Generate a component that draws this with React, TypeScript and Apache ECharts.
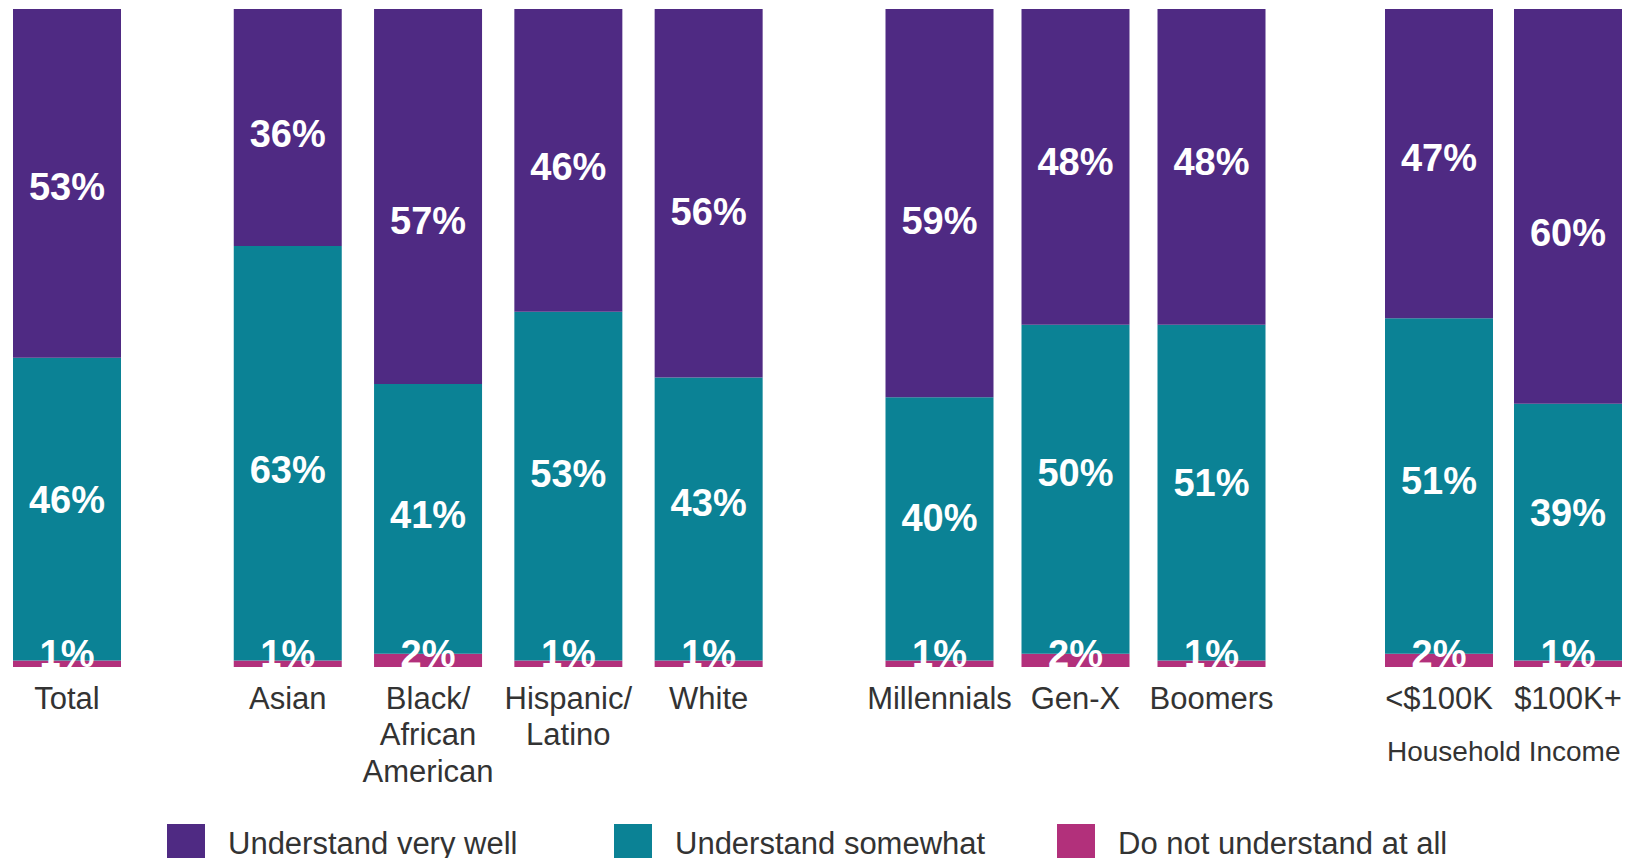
import React, { useEffect, useRef } from "react";
import * as echarts from "echarts";

// ---- Data ----
const categories = [
  "Total",
  "Asian",
  "Black/\nAfrican\nAmerican",
  "Hispanic/\nLatino",
  "White",
  "Millennials",
  "Gen-X",
  "Boomers",
  "<$100K",
  "$100K+",
];
const understandVeryWell = [53, 36, 57, 46, 56, 59, 48, 48, 47, 60];
const understandSomewhat = [46, 63, 41, 53, 43, 40, 50, 51, 51, 39];
const doNotUnderstand = [1, 1, 2, 1, 1, 1, 2, 1, 2, 1];
const groupSizes = [1, 4, 3, 2];
const seriesNames = ["Understand very well", "Understand somewhat", "Do not understand at all"];
const incomeGroupTitle = "Household Income";

// ---- Layout / style ----
const COLORS = {
  veryWell: "#4F2A83",
  somewhat: "#0B8295",
  notAtAll: "#B2307B",
};
const FONT = "'Liberation Sans', Arial, Helvetica, sans-serif";
const gridLayout = [
  { left: 13, width: 108 },
  { left: 217.6, width: 561.2 },
  { left: 871.5, width: 408 },
  { left: 1374.5, width: 258 },
];
const GRID_TOP = 9;
const GRID_HEIGHT = 658;
const BAR_WIDTH = 108;
// vertical nudges of the in-bar labels (pixels), as placed in the original design
const veryWellLabelNudge = [4, 7, 24, 7, 19, 18, -5, -5, -6, 27];
const somewhatLabelNudge = [-9, 17, -4, -12, -16, -11, -16, -10, -5, -19];

export default function App() {
  const ref = useRef<HTMLDivElement>(null);

  useEffect(() => {
    if (!ref.current) return;
    const chart = echarts.init(ref.current, undefined, { renderer: "svg" });

    const grids: any[] = [];
    const xAxes: any[] = [];
    const yAxes: any[] = [];
    const series: any[] = [];

    let offset = 0;
    groupSizes.forEach((size, gi) => {
      const start = offset;
      const cats = categories.slice(start, start + size);
      const vw = understandVeryWell.slice(start, start + size).map((v, i) => ({
        value: v,
        label: { offset: [0, veryWellLabelNudge[start + i]] },
      }));
      const sw = understandSomewhat.slice(start, start + size).map((v, i) => ({
        value: v,
        label: { offset: [0, somewhatLabelNudge[start + i]] },
      }));
      const na = doNotUnderstand.slice(start, start + size);
      offset += size;

      grids.push({
        left: gridLayout[gi].left,
        width: gridLayout[gi].width,
        top: GRID_TOP,
        height: GRID_HEIGHT,
        containLabel: false,
      });
      xAxes.push({
        type: "category",
        gridIndex: gi,
        data: cats,
        axisLine: { show: false },
        axisTick: { show: false },
        axisLabel: {
          interval: 0,
          margin: 13,
          fontSize: 31,
          lineHeight: 36.5,
          color: "#333333",
          fontFamily: FONT,
        },
      });
      yAxes.push({
        type: "value",
        gridIndex: gi,
        min: 0,
        max: 100,
        show: false,
        splitLine: { show: false },
      });

      const baseLabel = {
        show: true,
        formatter: "{c}%",
        color: "#ffffff",
        fontSize: 38,
        fontWeight: "bold",
        fontFamily: FONT,
      };
      const stack = "g" + gi;
      series.push({
        name: seriesNames[2],
        type: "bar",
        xAxisIndex: gi,
        yAxisIndex: gi,
        stack,
        barWidth: BAR_WIDTH,
        data: na,
        itemStyle: { color: COLORS.notAtAll },
        label: { ...baseLabel, position: "insideBottom", distance: 0, offset: [0, 6] },
      });
      series.push({
        name: seriesNames[1],
        type: "bar",
        xAxisIndex: gi,
        yAxisIndex: gi,
        stack,
        barWidth: BAR_WIDTH,
        data: sw,
        itemStyle: { color: COLORS.somewhat },
        label: { ...baseLabel, position: "inside" },
      });
      series.push({
        name: seriesNames[0],
        type: "bar",
        xAxisIndex: gi,
        yAxisIndex: gi,
        stack,
        barWidth: BAR_WIDTH,
        data: vw,
        itemStyle: { color: COLORS.veryWell },
        label: { ...baseLabel, position: "inside" },
      });
    });

    const legendBase = {
      top: 824,
      padding: 0,
      itemWidth: 38,
      itemHeight: 38,
      icon: "rect",
      selectedMode: false,
      textStyle: {
        fontSize: 31,
        color: "#333333",
        fontFamily: FONT,
        padding: [0, 0, 0, 18],
      },
    };

    chart.setOption({
      animation: false,
      backgroundColor: "#ffffff",
      grid: grids,
      xAxis: xAxes,
      yAxis: yAxes,
      series,
      legend: [
        { ...legendBase, left: 167, data: [seriesNames[0]] },
        { ...legendBase, left: 614, data: [seriesNames[1]] },
        { ...legendBase, left: 1057, data: [seriesNames[2]] },
      ],
      graphic: [
        {
          type: "text",
          left: 1387,
          top: 737,
          style: {
            text: incomeGroupTitle,
            fontSize: 28,
            fill: "#333333",
            fontFamily: FONT,
          },
        },
      ],
    });

    return () => chart.dispose();
  }, []);

  return (
    <div
      ref={ref}
      style={{ position: "fixed", left: 0, top: 0, width: 1633, height: 858, background: "#fff" }}
    />
  );
}
